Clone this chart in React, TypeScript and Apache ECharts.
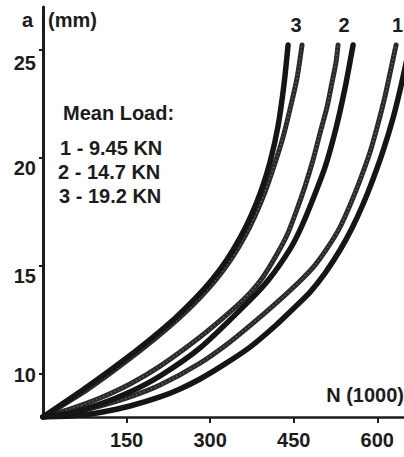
import React, { useEffect, useRef } from "react";
import * as echarts from "echarts";

// Fatigue crack growth curves: crack length a (mm) vs cycles N (x1000)
const G1_SOLID_N = [0, 48.5, 102.3, 156.2, 210.1, 246, 281.9, 326.8, 371.6, 416.5, 452.4, 479.4, 506.3, 533.2, 554.8, 574.6, 592.5, 610.4, 628.4, 640.9, 651.7, 658.9];
const G1_SOLID_A = [8, 8.05, 8.21, 8.51, 8.93, 9.3, 9.76, 10.46, 11.24, 12.22, 13.1, 13.79, 14.67, 15.74, 16.76, 17.87, 19.03, 20.33, 21.86, 23.15, 24.4, 25.24];
const G1_TEX_N = [0, 48.5, 102.3, 156.2, 210.1, 281.9, 335.7, 389.6, 434.5, 461.4, 488.3, 511.7, 533.2, 551.2, 569.1, 587.1, 601.4, 614, 623, 633.8];
const G1_TEX_A = [8, 8.19, 8.51, 8.93, 9.48, 10.5, 11.48, 12.63, 13.65, 14.3, 15.04, 15.88, 16.8, 17.82, 18.98, 20.28, 21.58, 22.87, 23.94, 25.24];

const G2_SOLID_N = [0, 48.5, 102.3, 156.2, 210.1, 281.9, 371.6, 407.5, 443.4, 461.4, 481.1, 506.3, 526, 542.2, 556.6];
const G2_SOLID_A = [8, 8.19, 8.6, 9.16, 9.9, 11.2, 13.42, 14.44, 15.78, 16.67, 17.87, 19.58, 21.39, 23.25, 25.24];
const G2_TEX_N = [0, 48.5, 102.3, 156.2, 210.1, 281.9, 335.7, 371.6, 395, 420.1, 438.1, 454.2, 470.4, 484.7, 497.3, 509.9, 518.9, 526, 529.6];
const G2_TEX_A = [8, 8.37, 8.88, 9.53, 10.36, 11.71, 12.87, 13.75, 14.49, 15.55, 16.43, 17.5, 18.7, 19.91, 21.16, 22.37, 23.52, 24.45, 25.24];

const G3_SOLID_N = [0, 71.8, 134.6, 192.1, 237, 272.9, 303.4, 330.3, 353.7, 373.4, 391.4, 407.5, 421.9, 432.7, 439.9];
const G3_SOLID_A = [8, 9.26, 10.43, 11.59, 12.58, 13.48, 14.36, 15.3, 16.3, 17.32, 18.48, 19.81, 21.48, 23.43, 25.24];
const G3_TEX_N = [0, 79, 141.8, 199.3, 244.2, 280.1, 310.6, 337.5, 360.9, 380.6, 398.6, 414.7, 430.9, 445.2, 456, 465];
const G3_TEX_A = [8, 9.26, 10.43, 11.59, 12.58, 13.48, 14.36, 15.3, 16.3, 17.32, 18.43, 19.63, 20.97, 22.46, 23.71, 25.24];

const X_TICKS = [150, 300, 450, 600];
const Y_TICKS = [10, 15, 20, 25];
const LEGEND_TITLE = "Mean Load:";
const LEGEND_LINES = ["1 - 9.45 KN", "2 - 14.7 KN", "3 - 19.2 KN"];
const CURVE_LABELS = ["3", "2", "1"];

const zip = (n: number[], a: number[]) => n.map((v, i) => [v, a[i]]);

const FONT = "Liberation Sans, Arial, sans-serif";
const INK = "#1c1c1c";

export default function App() {
  const ref = useRef<HTMLDivElement>(null);
  useEffect(() => {
    document.body.style.margin = "0";
    if (!ref.current) return;
    const chart = echarts.init(ref.current, undefined, { renderer: "svg" });

    const solid = (name: string, data: number[][]) => ({
      name,
      type: "line",
      data,
      symbol: "none",
      smooth: 0.25,
      lineStyle: { color: "#151515", width: 5.5, cap: "round" },
      z: 3,
    });
    const textured = (name: string, data: number[][]) => [
      {
        name,
        type: "line",
        data,
        symbol: "none",
        smooth: 0.25,
        lineStyle: { color: "#2a2a2a", width: 5, cap: "round" },
        z: 2,
      },
      {
        name: name + "-tex",
        type: "line",
        data,
        symbol: "none",
        smooth: 0.25,
        lineStyle: { color: "rgba(255,255,255,0.35)", width: 1.4, type: [1, 3] },
        z: 2,
        silent: true,
      },
    ];

    const labelRich = {
      s13: { padding: [26, 0, 0, 0], fontSize: 20, fontWeight: "bold", fontFamily: FONT, color: INK },
      s10: { padding: [20, 0, 0, 0], fontSize: 20, fontWeight: "bold", fontFamily: FONT, color: INK },
      s0: { padding: [2, 0, 0, 0], fontSize: 20, fontWeight: "bold", fontFamily: FONT, color: INK },
    };

    const txt = (text: string, x: number, y: number, align = "left") => ({
      type: "text",
      x,
      y,
      style: {
        text,
        font: `bold 20px ${FONT}`,
        fill: INK,
        textAlign: align,
        textVerticalAlign: "middle",
      },
      z: 10,
    });

    chart.setOption({
      animation: false,
      backgroundColor: "#ffffff",
      grid: { left: 43, right: 0, top: 7, bottom: 40, containLabel: false },
      xAxis: {
        type: "value",
        min: 0,
        max: 648,
        axisLine: { show: true, onZero: false, lineStyle: { color: INK, width: 2.5 } },
        axisTick: { show: true, length: 6, customValues: X_TICKS, lineStyle: { color: INK, width: 2 } },
        axisLabel: {
          customValues: X_TICKS,
          margin: 13,
          fontSize: 20,
          fontWeight: "bold",
          fontFamily: FONT,
          color: INK,
        },
        splitLine: { show: false },
      },
      yAxis: {
        type: "value",
        min: 8,
        max: 27,
        axisLine: { show: true, lineStyle: { color: INK, width: 3 } },
        axisTick: { show: true, length: 4, customValues: Y_TICKS, lineStyle: { color: INK, width: 2 } },
        axisLabel: {
          customValues: Y_TICKS,
          margin: 7,
          formatter: (v: number) =>
            v === 25 ? `{s13|${v}}` : v === 10 ? `{s0|${v}}` : `{s10|${v}}`,
          rich: labelRich,
        },
        splitLine: { show: false },
      },
      series: [
        ...textured("1 textured", zip(G1_TEX_N, G1_TEX_A)),
        solid("1 solid", zip(G1_SOLID_N, G1_SOLID_A)),
        ...textured("2 textured", zip(G2_TEX_N, G2_TEX_A)),
        solid("2 solid", zip(G2_SOLID_N, G2_SOLID_A)),
        ...textured("3 textured", zip(G3_TEX_N, G3_TEX_A)),
        solid("3 solid", zip(G3_SOLID_N, G3_SOLID_A)),
      ],
      graphic: [
        txt("a", 33, 20, "right"),
        txt("(mm)", 48, 20),
        txt(LEGEND_TITLE, 63, 113),
        txt(LEGEND_LINES[0], 60, 148),
        txt(LEGEND_LINES[1], 58, 172),
        txt(LEGEND_LINES[2], 59, 196),
        txt(CURVE_LABELS[0], 296, 25, "center"),
        txt(CURVE_LABELS[1], 344, 25, "center"),
        txt(CURVE_LABELS[2], 392, 25),
        txt("N (1000)", 404, 395, "right"),
      ],
    });
    return () => chart.dispose();
  }, []);
  return <div ref={ref} style={{ width: 404, height: 457 }} />;
}
